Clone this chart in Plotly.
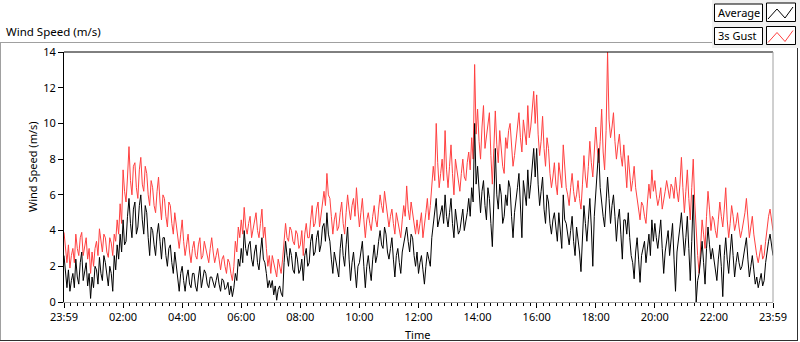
import plotly.graph_objects as go

# ---- data (one value every 3 minutes, 23:59 -> 23:59) ----
gust = [
    3.9, 2.8, 2.2, 3.2, 1.9, 2.6, 3.0, 2.2, 3.8, 3.0, 2.6, 3.6, 3.9, 2.6, 3.2, 3.6, 2.4, 3.0, 1.6, 2.8,
    2.0, 3.0, 3.4, 2.6, 4.1, 3.4, 2.8, 3.8, 3.6, 2.8, 2.5, 3.6, 3.3, 2.6, 3.8, 3.4, 4.6, 3.8, 5.5, 4.4,
    7.4, 6.2, 5.6, 7.0, 8.7, 6.8, 6.0, 7.6, 7.8, 6.4, 5.8, 7.4, 8.1, 6.6, 6.2, 7.6, 7.2, 6.0, 5.4, 6.8,
    6.4, 5.4, 5.0, 6.2, 7.0, 5.6, 4.6, 6.0, 5.8, 4.8, 4.2, 5.6, 5.4, 4.4, 3.8, 5.0, 4.4, 3.6, 3.0, 3.8,
    4.6, 3.4, 2.6, 3.2, 3.8, 2.8, 2.2, 3.0, 3.4, 2.6, 2.4, 3.2, 3.6, 2.4, 2.6, 3.4, 3.0, 2.4, 2.2, 3.0,
    3.6, 2.8, 2.2, 2.6, 3.0, 2.4, 1.8, 2.4, 2.6, 2.0, 1.6, 2.4, 2.2, 1.6, 1.2, 2.0, 3.4, 2.8, 4.2, 3.6,
    4.6, 3.8, 5.3, 4.2, 3.8, 4.4, 4.8, 3.6, 4.0, 4.6, 5.0, 4.0, 3.6, 4.4, 5.2, 3.6, 4.2, 3.0, 2.0, 2.6,
    1.6, 2.6, 2.2, 1.8, 1.4, 2.4, 2.0, 1.6, 2.4, 3.6, 4.4, 3.6, 3.4, 4.2, 4.0, 3.4, 3.2, 4.0, 3.8, 3.0,
    3.2, 4.0, 2.6, 3.8, 4.4, 3.6, 3.6, 4.6, 5.4, 4.2, 4.4, 5.2, 5.6, 4.2, 4.8, 5.6, 6.2, 5.4, 7.2, 6.0,
    5.8, 4.8, 3.8, 4.6, 5.0, 4.0, 4.2, 5.0, 5.6, 4.4, 3.8, 5.0, 6.0, 5.2, 4.6, 5.4, 5.8, 4.8, 6.4, 5.2,
    4.2, 5.0, 5.8, 4.6, 3.6, 4.6, 5.0, 4.4, 4.0, 4.8, 5.4, 4.6, 4.2, 5.2, 6.0, 5.4, 5.0, 6.2, 5.6, 4.8,
    4.2, 4.8, 5.2, 4.4, 3.8, 5.0, 4.6, 4.0, 3.6, 4.6, 5.4, 4.8, 6.5, 5.2, 4.6, 5.6, 5.0, 4.4, 3.8, 4.6,
    3.8, 4.4, 5.0, 3.6, 4.2, 5.0, 5.8, 4.6, 5.4, 6.4, 7.6, 6.8, 10.0, 7.8, 6.4, 7.2, 8.0, 6.8, 9.6, 7.4,
    6.4, 7.6, 8.8, 7.2, 6.0, 8.0, 7.4, 6.6, 6.2, 7.2, 8.0, 7.0, 6.8, 7.8, 8.4, 7.4, 9.2, 8.0, 13.3, 9.4,
    10.8, 9.0, 8.0, 9.8, 11.0, 8.6, 9.4, 10.2, 10.6, 8.2, 6.6, 8.6, 10.7, 8.8, 7.8, 9.6, 8.6, 7.6, 7.2, 9.2,
    8.6, 9.6, 10.0, 8.4, 7.6, 8.2, 9.0, 9.8, 10.6, 9.2, 8.4, 10.2, 9.4, 8.8, 11.0, 9.2, 9.8, 10.8, 11.8, 10.0,
    11.6, 9.4, 8.2, 9.0, 10.4, 8.6, 7.6, 9.2, 8.6, 7.2, 6.4, 7.0, 7.8, 6.6, 6.0, 7.8, 7.2, 6.4, 8.8, 7.4,
    6.4, 6.0, 5.4, 6.4, 7.2, 6.2, 5.6, 6.0, 6.8, 5.8, 5.2, 6.6, 8.2, 7.0, 6.4, 7.6, 9.0, 7.8, 7.0, 8.4,
    9.8, 8.6, 7.8, 9.0, 10.8, 8.4, 7.4, 9.6, 14.0, 10.2, 9.2, 9.8, 10.6, 9.0, 8.0, 8.8, 9.4, 8.2, 7.6, 8.8,
    7.2, 6.4, 8.2, 7.0, 6.2, 6.8, 7.6, 6.4, 5.8, 5.2, 4.6, 5.6, 5.4, 4.8, 4.4, 5.6, 6.6, 5.8, 7.4, 6.2,
    6.8, 6.0, 5.4, 5.8, 6.4, 5.2, 5.6, 6.2, 6.8, 6.2, 5.8, 6.6, 6.4, 5.8, 7.0, 6.2, 5.6, 6.6, 8.1, 6.4,
    5.0, 6.2, 7.4, 5.8, 4.6, 6.4, 8.0, 5.6, 3.6, 2.6, 1.6, 3.6, 4.6, 3.8, 3.0, 4.8, 6.2, 5.2, 4.0, 4.8,
    4.6, 4.0, 3.6, 4.6, 5.6, 4.8, 4.2, 5.2, 6.4, 4.6, 3.6, 4.4, 5.4, 4.8, 4.0, 4.4, 5.0, 4.2, 3.6, 4.0,
    4.4, 5.0, 5.8, 4.6, 3.6, 4.2, 4.8, 3.8, 3.0, 2.6, 2.2, 2.8, 3.2, 2.4, 2.6, 3.4, 4.2, 4.8, 5.2, 4.4,
    4.0,
]
average = [
    2.6, 1.4, 0.8, 1.8, 0.6, 1.2, 1.6, 0.8, 2.4, 1.4, 1.0, 2.2, 2.8, 1.2, 1.8, 2.2, 0.9, 1.6, 0.2, 1.4,
    0.8, 2.0, 1.8, 1.0, 2.5, 1.6, 1.2, 2.6, 2.2, 1.4, 0.9, 2.0, 1.6, 0.6, 2.6, 1.8, 3.2, 2.4, 3.8, 2.8,
    4.6, 3.2, 3.4, 4.8, 5.8, 4.4, 3.6, 5.2, 5.6, 3.8, 4.2, 5.4, 6.0, 4.6, 3.8, 5.4, 5.0, 3.6, 2.6, 4.2,
    4.0, 3.2, 2.6, 3.8, 4.4, 3.4, 2.4, 3.6, 3.6, 2.6, 2.0, 3.0, 3.2, 2.2, 1.6, 2.8, 2.0, 1.2, 0.6, 1.6,
    2.0, 1.2, 0.6, 1.4, 1.8, 1.0, 0.8, 1.6, 1.6, 0.9, 0.6, 1.4, 2.0, 0.8, 1.2, 1.8, 1.6, 1.0, 0.8, 1.4,
    1.4, 1.0, 0.8, 1.2, 1.6, 1.0, 0.6, 1.3, 1.2, 0.7, 0.8, 1.1, 0.4, 0.9, 0.3, 0.8, 1.6, 1.2, 2.4, 2.0,
    3.0, 2.2, 4.0, 3.0, 2.6, 3.2, 3.4, 2.4, 2.0, 2.8, 3.2, 2.2, 1.8, 2.8, 3.6, 2.4, 2.2, 1.6, 0.8, 1.2,
    0.8, 1.2, 0.4, 0.9, 0.1, 0.7, 0.9, 0.5, 0.3, 2.2, 3.4, 2.6, 2.0, 3.0, 2.6, 1.8, 1.6, 2.8, 2.4, 1.6,
    1.8, 2.4, 1.2, 2.6, 3.0, 2.0, 2.2, 3.4, 3.8, 2.6, 2.8, 3.6, 4.0, 2.8, 3.2, 4.2, 4.4, 3.4, 5.0, 3.8,
    3.4, 2.4, 1.6, 2.8, 2.4, 1.8, 1.4, 3.0, 3.8, 2.6, 2.0, 3.2, 4.2, 2.4, 1.2, 2.2, 2.8, 1.8, 0.8, 2.0,
    2.2, 2.8, 3.4, 2.0, 0.8, 2.0, 2.6, 1.8, 1.2, 2.4, 3.2, 2.2, 2.6, 3.4, 4.0, 3.2, 3.0, 4.2, 3.8, 2.8,
    2.4, 3.0, 3.6, 2.4, 1.4, 2.6, 3.0, 2.2, 1.6, 2.8, 3.2, 3.8, 4.2, 3.4, 2.8, 3.8, 3.6, 2.6, 2.0, 2.8,
    1.6, 2.2, 2.6, 1.8, 1.0, 2.0, 2.8, 2.4, 2.0, 3.6, 4.4, 4.8, 5.8, 4.2, 4.6, 5.0, 5.4, 4.4, 6.0, 4.8,
    4.2, 5.0, 5.8, 4.4, 3.6, 5.2, 4.6, 3.8, 4.0, 4.8, 5.2, 4.0, 4.4, 5.0, 5.8, 4.8, 6.4, 5.6, 10.0, 6.6,
    7.6, 6.0, 5.0, 6.2, 6.8, 5.4, 4.6, 6.4, 5.8, 4.4, 3.1, 5.6, 8.6, 6.0, 5.2, 6.6, 6.0, 4.4, 4.8, 6.0,
    5.4, 6.8, 6.4, 4.8, 3.6, 5.0, 5.6, 6.4, 7.2, 5.2, 3.6, 6.8, 6.2, 5.4, 7.4, 5.8, 6.6, 7.8, 8.6, 7.0,
    8.6, 6.6, 5.4, 6.2, 7.0, 5.2, 4.4, 6.0, 5.6, 4.4, 3.8, 4.6, 5.0, 4.2, 3.4, 5.0, 4.2, 3.0, 6.0, 4.6,
    4.4, 3.6, 3.2, 4.0, 4.8, 3.4, 2.6, 4.2, 3.6, 2.8, 1.7, 4.0, 5.4, 4.4, 3.4, 4.6, 5.8, 4.2, 2.0, 4.8,
    6.2, 7.4, 8.6, 6.4, 5.4, 4.8, 4.2, 5.6, 7.0, 5.8, 4.4, 5.4, 6.0, 4.8, 3.4, 4.6, 5.2, 3.8, 2.4, 4.6,
    4.6, 3.8, 5.0, 3.6, 2.6, 2.2, 1.3, 2.8, 3.6, 2.4, 1.1, 2.6, 3.0, 3.4, 2.2, 3.0, 3.8, 2.6, 4.6, 3.4,
    4.4, 3.6, 3.0, 3.8, 4.6, 3.0, 1.6, 2.8, 3.6, 4.0, 2.6, 3.4, 4.4, 2.4, 0.6, 2.8, 3.4, 4.2, 5.0, 3.8,
    2.6, 3.6, 4.8, 3.0, 1.2, 3.4, 6.0, 2.8, 0.0, 1.2, 1.6, 2.4, 3.4, 2.2, 1.0, 3.0, 4.2, 3.2, 2.4, 3.0,
    2.4, 1.8, 1.2, 2.4, 3.2, 2.0, 0.3, 2.6, 3.6, 2.4, 1.6, 2.8, 3.8, 2.6, 1.4, 2.2, 2.8, 2.2, 1.8, 2.0,
    2.6, 3.2, 3.6, 2.4, 1.4, 2.0, 2.6, 1.8, 1.0, 1.4, 0.8, 1.2, 1.6, 0.9, 1.2, 2.2, 3.0, 3.4, 3.8, 3.0,
    2.6,
]
minutes = [3 * i for i in range(len(gust))]   # minutes after 23:59

x_tick_minutes = [0, 120, 240, 360, 480, 600, 720, 840, 960, 1080, 1200, 1320, 1440]
x_tick_labels = ["23:59", "02:00", "04:00", "06:00", "08:00", "10:00", "12:00",
                 "14:00", "16:00", "18:00", "20:00", "22:00", "23:59"]
y_ticks = [0, 2, 4, 6, 8, 10, 12, 14]
series_names = ["Average", "3s Gust"]
series_colors = ["#000000", "#ff4040"]

# ---- geometry helpers ----
W, H = 800, 342
L, R, T, B = 64, 773, 52, 302


def px(x):
    return (x - L) / (R - L)


def py(y):
    return (B - y) / (B - T)


FONT = "Noto Sans"

fig = go.Figure()
fig.add_trace(go.Scatter(x=minutes, y=gust, mode="lines", name=series_names[1],
                         line=dict(color=series_colors[1], width=1), showlegend=False))
fig.add_trace(go.Scatter(x=minutes, y=average, mode="lines", name=series_names[0],
                         line=dict(color=series_colors[0], width=1), showlegend=False))

fig.update_layout(
    width=W, height=H, autosize=False,
    margin=dict(l=L, r=W - R, t=T, b=H - B, pad=0),
    paper_bgcolor="white", plot_bgcolor="white",
    font=dict(family=FONT, size=11, color="#000000"),
    xaxis=dict(range=[0, 1440], tickmode="array", tickvals=x_tick_minutes,
               ticktext=x_tick_labels, ticks="outside", ticklen=5, tickcolor="#000000",
               showgrid=False, zeroline=False, showline=True, linecolor="#a0a0a0",
               linewidth=1, tickfont=dict(size=11),
               minor=dict(ticks="outside", ticklen=3, tickcolor="#000000",
                          tick0=0, dtick=120 / 9, showgrid=False)),
    yaxis=dict(range=[0, 14], tickmode="array", tickvals=y_ticks, ticks="outside",
               ticklen=5, tickcolor="#000000", showgrid=False, zeroline=False,
               showline=True, linecolor="#000000", linewidth=1, tickfont=dict(size=11)),
)

shapes = []
# plot frame: black top, grey right
shapes.append(dict(type="line", xref="paper", yref="paper", x0=0, x1=1, y0=1, y1=1,
                   line=dict(color="#000000", width=1)))
shapes.append(dict(type="line", xref="paper", yref="paper", x0=1, x1=1, y0=0, y1=1,
                   line=dict(color="#a0a0a0", width=1)))
# outer frame
shapes.append(dict(type="line", xref="paper", yref="paper", x0=px(0), x1=px(712),
                   y0=py(42.5), y1=py(42.5), line=dict(color="#a0a0a0", width=1)))
shapes.append(dict(type="line", xref="paper", yref="paper", x0=px(0.5), x1=px(0.5),
                   y0=py(42.5), y1=py(340.5), line=dict(color="#a0a0a0", width=1)))
shapes.append(dict(type="line", xref="paper", yref="paper", x0=px(0), x1=px(798),
                   y0=py(340.5), y1=py(340.5), line=dict(color="#303030", width=1)))
shapes.append(dict(type="line", xref="paper", yref="paper", x0=px(797.5), x1=px(797.5),
                   y0=py(48), y1=py(340.5), line=dict(color="#303030", width=1)))
# legend panel
shapes.append(dict(type="rect", xref="paper", yref="paper", x0=px(712), x1=px(800),
                   y0=py(48), y1=py(0), fillcolor="#f0f0f0", line=dict(width=0), layer="below"))
annotations = []
legend_rows = [(4, 21.5), (27.5, 44.5)]
zig = [(768, 15, ), (777, 5), (785, 14), (793, 3)]
for (top, bot), name, col in zip(legend_rows, series_names, series_colors):
    shapes.append(dict(type="rect", xref="paper", yref="paper", x0=px(714.5), x1=px(762.5),
                       y0=py(bot), y1=py(top), fillcolor="white",
                       line=dict(color="#000000", width=1)))
    shapes.append(dict(type="rect", xref="paper", yref="paper", x0=px(766.5), x1=px(795.5),
                       y0=py(bot), y1=py(top - 1), fillcolor="white",
                       line=dict(color="#000000", width=1)))
    path = "M " + " L ".join(f"{px(a)},{py(top + b)}" for a, b in zig)
    shapes.append(dict(type="path", xref="paper", yref="paper", path=path,
                       line=dict(color=col, width=1)))
    annotations.append(dict(xref="paper", yref="paper", x=px(716), y=py((top + bot) / 2),
                            text=name, showarrow=False, xanchor="left", yanchor="middle",
                            font=dict(family=FONT, size=11, color="#000000")))

annotations.append(dict(xref="paper", yref="paper", x=px(4), y=py(32), text="Wind Speed (m/s)",
                        showarrow=False, xanchor="left", yanchor="middle",
                        font=dict(family=FONT, size=11.5, color="#000000")))
annotations.append(dict(xref="paper", yref="paper", x=px(32), y=py(167), text="Wind Speed (m/s)",
                        textangle=-90, showarrow=False, xanchor="center", yanchor="middle",
                        font=dict(family=FONT, size=11, color="#000000")))
annotations.append(dict(xref="paper", yref="paper", x=px(417), y=py(334), text="Time",
                        showarrow=False, xanchor="center", yanchor="middle",
                        font=dict(family=FONT, size=11, color="#000000")))

fig.update_layout(shapes=shapes, annotations=annotations)
fig.write_html("out.html", config={"displayModeBar": False},
               post_script="document.body.style.margin='0';document.body.style.overflow='hidden';")
